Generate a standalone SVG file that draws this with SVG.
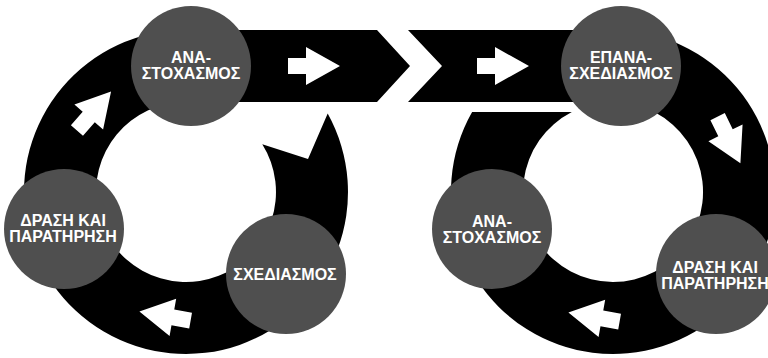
<svg xmlns="http://www.w3.org/2000/svg" width="768" height="358" viewBox="0 0 768 358">
<style>
.ring{fill:#000}
.node{fill:#4f4f4f}
.lbl{fill:#fff;font-family:"Liberation Sans",Arial,sans-serif;font-weight:bold;font-size:16px;text-anchor:middle}
.arr{fill:#fff}
</style>
<defs>
<path id="blk" d="M-26,-8 L-8,-8 L-8,-19 L26,0 L-8,19 L-8,8 L-26,8 Z"/>
</defs>
<rect width="768" height="358" fill="#fff"/>
<g id="connectors">
<path class="ring" d="M377,30 L410,66 L377,102 L186,102 A90,90 0 1 0 262.3,144.3 L308,159 L327.7,113.5 A162,162 0 1 1 186,30 Z"/>
<path class="ring" d="M408,30 L613,30 A162,162 0 1 1 472.1,112 L571.8,112 A90,90 0 1 0 613,102 L408,102 L442,66 Z"/>
<use href="#blk" class="arr" transform="translate(314,66)"/>
<use href="#blk" class="arr" transform="translate(503,66)"/>
<use href="#blk" class="arr" transform="translate(94,111) rotate(-49)"/>
<use href="#blk" class="arr" transform="translate(165,316) rotate(190)"/>
<use href="#blk" class="arr" transform="translate(729,140) rotate(64)"/>
<use href="#blk" class="arr" transform="translate(594,317) rotate(190)"/>
</g>
<g id="n1"><circle class="node" cx="191" cy="66" r="60"/><text class="lbl" x="191" y="63">ΑΝΑ-</text><text class="lbl" x="191" y="79">ΣΤΟΧΑΣΜΟΣ</text></g>
<g id="n2"><circle class="node" cx="64" cy="229" r="60"/><text class="lbl" x="63" y="226">ΔΡΑΣΗ ΚΑΙ</text><text class="lbl" x="63" y="242">ΠΑΡΑΤΗΡΗΣΗ</text></g>
<g id="n3"><circle class="node" cx="286" cy="274" r="60"/><text class="lbl" x="285" y="280">ΣΧΕΔΙΑΣΜΟΣ</text></g>
<g id="n4"><circle class="node" cx="621" cy="66" r="60"/><text class="lbl" x="621" y="63">ΕΠΑΝΑ-</text><text class="lbl" x="621" y="79">ΣΧΕΔΙΑΣΜΟΣ</text></g>
<g id="n5"><circle class="node" cx="492" cy="229" r="60"/><text class="lbl" x="492" y="227">ΑΝΑ-</text><text class="lbl" x="492" y="243">ΣΤΟΧΑΣΜΟΣ</text></g>
<g id="n6"><circle class="node" cx="716" cy="274" r="60"/><text class="lbl" x="715" y="273">ΔΡΑΣΗ ΚΑΙ</text><text class="lbl" x="715" y="289">ΠΑΡΑΤΗΡΗΣΗ</text></g>
</svg>
